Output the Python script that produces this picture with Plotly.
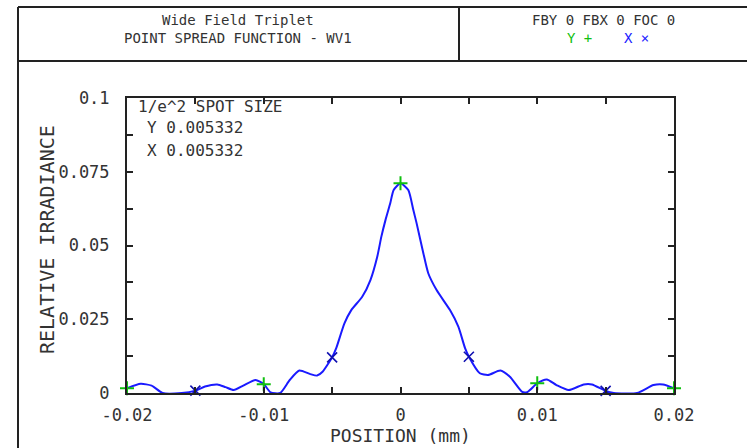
import plotly.graph_objects as go

# Point spread function cross-section (position in mm, relative irradiance)
position_mm = [
    -0.0200, -0.0190, -0.0182, -0.0174, -0.0160, -0.0150, -0.0143, -0.0134,
    -0.0128, -0.0122, -0.0115, -0.0106, -0.0100, -0.0095, -0.0088, -0.0081,
    -0.0074, -0.0066, -0.0061, -0.0057, -0.0050, -0.0047, -0.0041, -0.0036,
    -0.0028, -0.0022, -0.0017, -0.0014, -0.0011, -0.00075, -0.0005, 0.0000,
    0.00057, 0.00094, 0.00118, 0.00167, 0.00203, 0.00264, 0.00362, 0.00423,
    0.00472, 0.0050, 0.0058, 0.0064, 0.0073, 0.0080, 0.0089, 0.0093,
    0.0100, 0.0107, 0.0114, 0.0123, 0.0134, 0.0140, 0.0150, 0.0156,
    0.0173, 0.0185, 0.0192, 0.0200,
]
irradiance = [
    0.0016, 0.0031, 0.0025, 0.0000, 0.0000, 0.0008, 0.0022, 0.0029,
    0.0020, 0.0010, 0.0025, 0.0044, 0.0030, 0.0002, 0.0000, 0.0044,
    0.0076, 0.0064, 0.0059, 0.0072, 0.0121, 0.0152, 0.0236, 0.0281,
    0.0326, 0.0383, 0.0462, 0.0530, 0.0586, 0.0643, 0.0688, 0.0711,
    0.0688, 0.0620, 0.0575, 0.0474, 0.0406, 0.0349, 0.0281, 0.0225,
    0.0152, 0.0123, 0.0067, 0.0061, 0.0076, 0.0055, 0.0004, 0.0004,
    0.0033, 0.0046, 0.0027, 0.0010, 0.0029, 0.0029, 0.0007, 0.0000,
    0.0000, 0.0027, 0.0029, 0.0016,
]

# Sample positions that carry the Y (+) and X (x) symbols
y_marker_pos = [-0.02, -0.01, 0.0, 0.01, 0.02]
x_marker_pos = [-0.015, -0.005, 0.005, 0.015]

x_tick_vals = [-0.02, -0.01, 0.0, 0.01, 0.02]
x_tick_text = ["-0.02", "-0.01", "0", "0.01", "0.02"]
y_tick_vals = [0.0, 0.025, 0.05, 0.075, 0.1]
y_tick_text = ["0", "0.025", "0.05", "0.075", "0.1"]

title_lines = ["Wide Field Triplet", "POINT SPREAD FUNCTION - WV1"]
field_text = "FBY 0 FBX 0 FOC 0"
spot_lines = ["1/e^2 SPOT SIZE", "Y 0.005332", "X 0.005332"]

W, H = 747, 448
L, R, T, B = 127, 73, 98, 55
PW, PH = W - L - R, H - T - B

FONT = "DejaVu Sans Mono"
INK = "#222222"
BLUE = "#1a1aff"
GREEN = "#10c010"


def px(xp):
    return (xp - L) / PW


def py(yp):
    return (H - B - yp) / PH


def pick(targets):
    idx = [min(range(len(position_mm)), key=lambda i: abs(position_mm[i] - t)) for t in targets]
    return [position_mm[i] for i in idx], [irradiance[i] for i in idx]


fig = go.Figure()

fig.add_trace(go.Scatter(
    x=position_mm, y=irradiance, mode="lines",
    line=dict(color=BLUE, width=2, shape="spline", smoothing=0.6),
    showlegend=False, hoverinfo="skip",
))

ymx, ymy = pick(y_marker_pos)
fig.add_trace(go.Scatter(
    x=ymx, y=ymy, mode="markers",
    marker=dict(symbol="cross-thin", size=10, line=dict(color=GREEN, width=2)),
    showlegend=False, hoverinfo="skip", cliponaxis=False,
))

xmx, xmy = pick(x_marker_pos)
fig.add_trace(go.Scatter(
    x=xmx, y=xmy, mode="markers",
    marker=dict(symbol="x-thin", size=10, line=dict(color="#1010b0", width=1.6)),
    showlegend=False, hoverinfo="skip", cliponaxis=False,
))

axis_common = dict(
    showgrid=False, zeroline=False, showline=True, linecolor=INK, linewidth=2,
    mirror="ticks", ticks="inside", ticklen=6, tickwidth=2, tickcolor=INK,
    tickfont=dict(family=FONT, size=17, color="#333333"),
)

fig.update_xaxes(
    range=[-0.02, 0.02], tickvals=x_tick_vals, ticktext=x_tick_text,
    ticklabelstandoff=6,
    minor=dict(dtick=0.005, tick0=0, ticks="inside", ticklen=6, tickwidth=2, tickcolor=INK),
    **axis_common,
)
fig.update_yaxes(
    range=[0, 0.1], tickvals=y_tick_vals, ticktext=y_tick_text,
    ticklabelstandoff=12,
    minor=dict(dtick=0.0125, tick0=0, ticks="inside", ticklen=6, tickwidth=2, tickcolor=INK),
    **axis_common,
)

# Outer frame and header cells
frame = dict(color=INK, width=2)
shapes = [
    dict(type="line", xref="paper", yref="paper", x0=px(18), x1=px(760), y0=py(7), y1=py(7), line=frame),
    dict(type="line", xref="paper", yref="paper", x0=px(18), x1=px(760), y0=py(61), y1=py(61), line=frame),
    dict(type="line", xref="paper", yref="paper", x0=px(18), x1=px(18), y0=py(7), y1=py(460), line=frame),
    dict(type="line", xref="paper", yref="paper", x0=px(459), x1=px(459), y0=py(7), y1=py(61), line=frame),
]

ann = []


def text(s, xp, yp, size, color="#333333", xanchor="center", angle=0):
    ann.append(dict(
        text=s, x=px(xp), y=py(yp), xref="paper", yref="paper", showarrow=False,
        xanchor=xanchor, yanchor="middle", textangle=angle,
        font=dict(family=FONT, size=size, color=color),
    ))


text(title_lines[0], 238, 20, 14)
text(title_lines[1], 238, 38, 14)
text(field_text, 603, 20, 14)
text("Y +", 579, 38, 14, color=GREEN)
text("X \u00d7", 636, 38, 14, color=BLUE)

text(spot_lines[0], 136, 107, 16, xanchor="left")
text(spot_lines[1], 145, 128, 16, xanchor="left")
text(spot_lines[2], 145, 150, 16, xanchor="left")

text("RELATIVE IRRADIANCE", 47, 240, 20, angle=-90)
text("POSITION (mm)", 400, 435, 18)

fig.update_layout(
    width=W, height=H, autosize=False,
    margin=dict(l=L, r=R, t=T, b=B, pad=0),
    paper_bgcolor="white", plot_bgcolor="white",
    shapes=shapes, annotations=ann, showlegend=False,
)

fig.write_html("out.html")
